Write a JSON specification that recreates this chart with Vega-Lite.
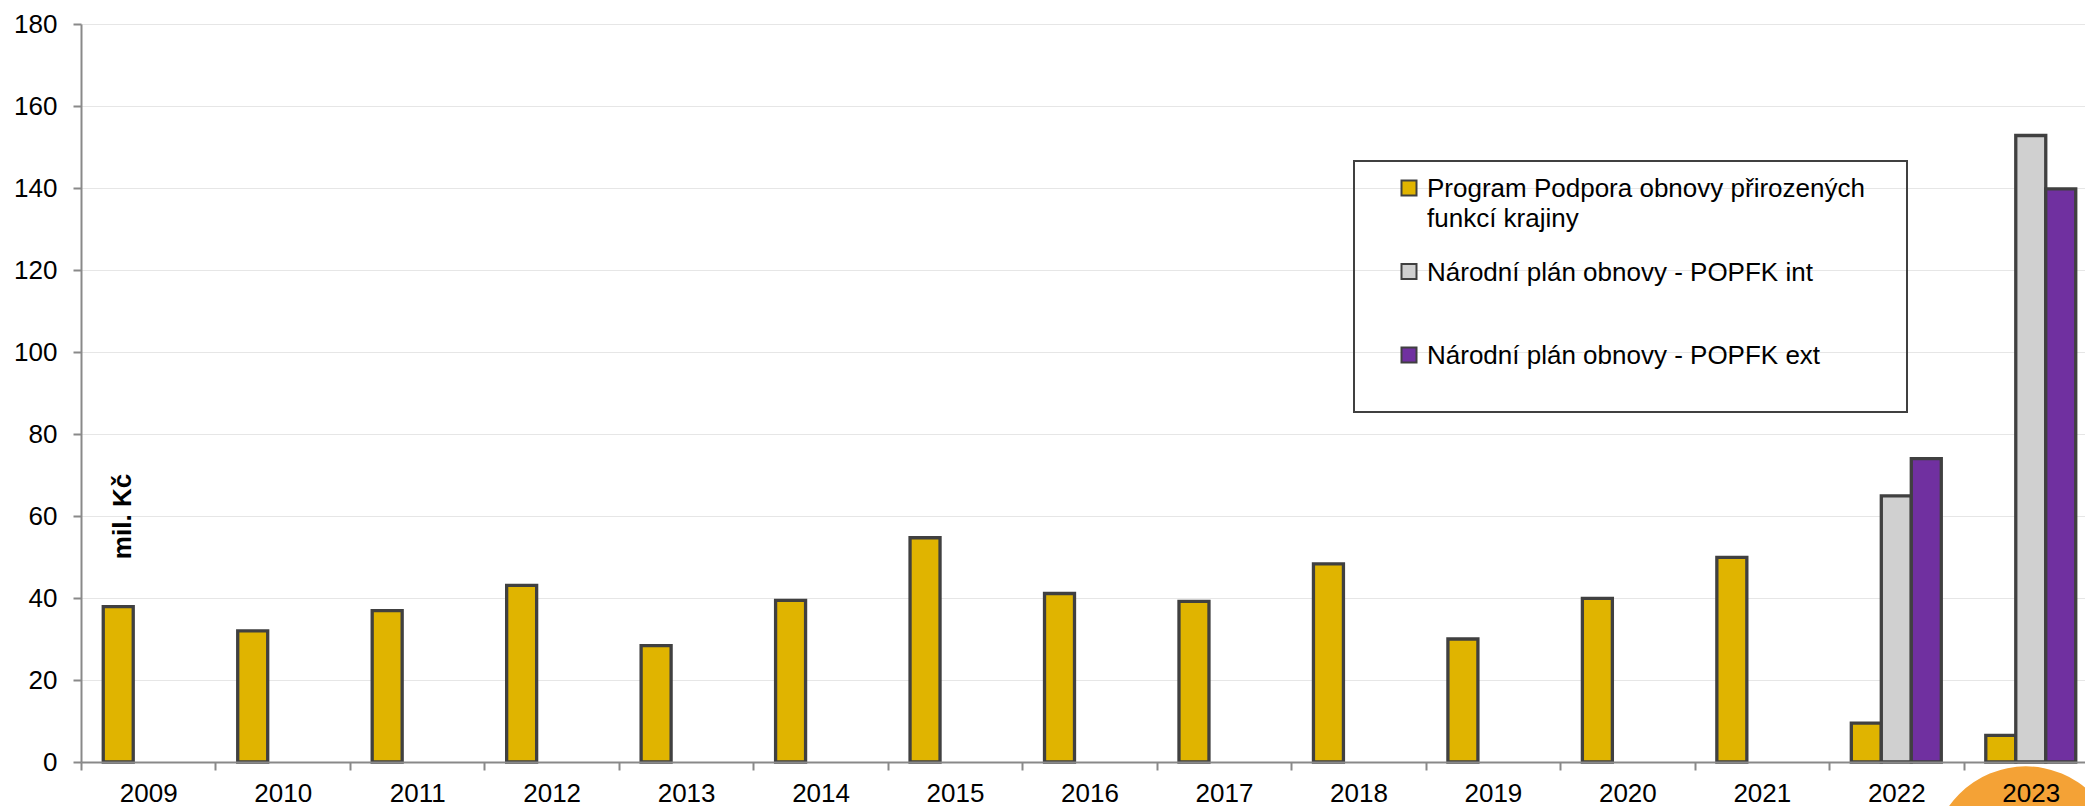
{
  "$schema": "https://vega.github.io/schema/vega-lite/v6.json",
  "autosize": {"type": "none"},
  "width": 2004,
  "height": 738,
  "padding": {"left": 81, "top": 24, "right": 0, "bottom": 44},
  "background": "white",
  "config": {
    "font": "Liberation Sans",
    "view": {"stroke": null}
  },
  "datasets": {
    "decor": [{"year": "2023", "value": -24}],
    "spending": [
      {"year": "2009", "series": "Program Podpora obnovy přirozených funkcí krajiny", "value": 37.9},
      {"year": "2010", "series": "Program Podpora obnovy přirozených funkcí krajiny", "value": 32.0},
      {"year": "2011", "series": "Program Podpora obnovy přirozených funkcí krajiny", "value": 36.9},
      {"year": "2012", "series": "Program Podpora obnovy přirozených funkcí krajiny", "value": 43.1},
      {"year": "2013", "series": "Program Podpora obnovy přirozených funkcí krajiny", "value": 28.4},
      {"year": "2014", "series": "Program Podpora obnovy přirozených funkcí krajiny", "value": 39.4},
      {"year": "2015", "series": "Program Podpora obnovy přirozených funkcí krajiny", "value": 54.7},
      {"year": "2016", "series": "Program Podpora obnovy přirozených funkcí krajiny", "value": 41.1},
      {"year": "2017", "series": "Program Podpora obnovy přirozených funkcí krajiny", "value": 39.2},
      {"year": "2018", "series": "Program Podpora obnovy přirozených funkcí krajiny", "value": 48.3},
      {"year": "2019", "series": "Program Podpora obnovy přirozených funkcí krajiny", "value": 30.0},
      {"year": "2020", "series": "Program Podpora obnovy přirozených funkcí krajiny", "value": 39.9},
      {"year": "2021", "series": "Program Podpora obnovy přirozených funkcí krajiny", "value": 49.9},
      {"year": "2022", "series": "Program Podpora obnovy přirozených funkcí krajiny", "value": 9.5},
      {"year": "2022", "series": "Národní plán obnovy - POPFK int", "value": 64.9},
      {"year": "2022", "series": "Národní plán obnovy - POPFK ext", "value": 74.0},
      {"year": "2023", "series": "Program Podpora obnovy přirozených funkcí krajiny", "value": 6.5},
      {"year": "2023", "series": "Národní plán obnovy - POPFK int", "value": 152.8},
      {"year": "2023", "series": "Národní plán obnovy - POPFK ext", "value": 139.8}
    ]
  },
  "encoding": {
    "x": {
      "field": "year", "type": "nominal",
      "scale": {"paddingInner": 0, "paddingOuter": 0, "range": [0, 2017]},
      "axis": {
        "title": null, "labelAngle": 0, "tickBand": "extent",
        "labelFontSize": 26, "labelColor": "black", "labelPadding": 10,
        "tickSize": 8, "domainColor": "#898989", "tickColor": "#898989",
        "domainWidth": 2, "tickWidth": 2, "grid": false, "zindex": 1
      }
    },
    "y": {
      "field": "value", "type": "quantitative",
      "scale": {"domain": [0, 180], "nice": false},
      "axis": {
        "title": "mil. Kč", "values": [0, 20, 40, 60, 80, 100, 120, 140, 160, 180],
        "labelFontSize": 26, "labelColor": "black", "labelPadding": 16,
        "tickSize": 8, "domainColor": "#898989", "tickColor": "#898989",
        "domainWidth": 2, "tickWidth": 2,
        "grid": true, "gridColor": "#E6E6E6", "gridWidth": 1,
        "titleX": 41, "titleY": 492, "titleAngle": -90, "titleFontSize": 26,
        "titleFontWeight": "bold", "titleColor": "black",
        "titleAlign": "center", "titleBaseline": "middle"
      }
    }
  },
  "layer": [
    {
      "data": {"name": "decor"},
      "mark": {"type": "point", "filled": true, "shape": "circle", "size": 35344, "color": "#F4A236", "opacity": 1, "strokeWidth": 0, "xOffset": -5}
    },
    {
      "data": {"name": "spending"},
      "mark": {"type": "bar", "stroke": "#404040", "strokeWidth": 3.3},
      "encoding": {
        "xOffset": {
          "field": "series", "type": "nominal",
          "scale": {
            "domain": ["Program Podpora obnovy přirozených funkcí krajiny", "Národní plán obnovy - POPFK int", "Národní plán obnovy - POPFK ext"],
            "paddingInner": 0, "paddingOuter": 0.742
          }
        },
        "fill": {
          "field": "series", "type": "nominal",
          "scale": {
            "domain": ["Program Podpora obnovy přirozených funkcí krajiny", "Národní plán obnovy - POPFK int", "Národní plán obnovy - POPFK ext"],
            "range": ["#E0B400", "#D0D0D0", "#7030A0"]
          },
          "legend": {
            "title": " ", "titleFontSize": 1, "titlePadding": -29,
            "orient": "none", "legendX": 1273, "legendY": 137,
            "padding": 42, "gridAlign": "all", "rowPadding": 25.5,
            "symbolType": "square", "symbolSize": 225,
            "symbolStrokeColor": "#404040", "symbolStrokeWidth": 2,
            "labelFontSize": 26, "labelColor": "black", "labelOffset": 5, "labelLimit": 700,
            "labelBaseline": "alphabetic",
            "labelExpr": "datum.label == 'Program Podpora obnovy přirozených funkcí krajiny' ? ['Program Podpora obnovy přirozených', 'funkcí krajiny'] : datum.label",
            "strokeColor": "#404040",
            "encode": {
              "labels": {"update": {"dy": {"value": 9.3}, "lineHeight": {"value": 30}}},
              "legend": {"update": {"strokeWidth": {"value": 2}}}
            }
          }
        }
      }
    }
  ]
}
